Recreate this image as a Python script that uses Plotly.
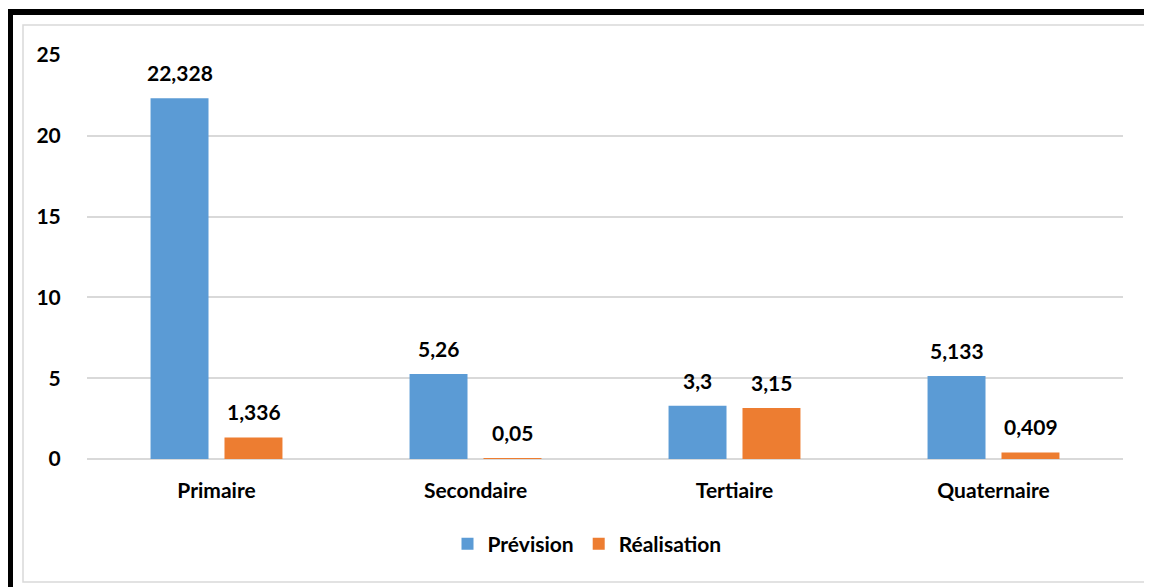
import plotly.graph_objects as go

categories = ["Primaire", "Secondaire", "Tertiaire", "Quaternaire"]
prevision = [22.328, 5.26, 3.3, 5.133]
realisation = [1.336, 0.05, 3.15, 0.409]
series_names = ["Prévision", "Réalisation"]
y_ticks = [0, 5, 10, 15, 20, 25]

BLUE = "#5B9BD5"
ORANGE = "#ED7D31"
GRID = "#D9D9D9"
FONT = "Lato"
FS = 21

OFF = 8  # default page body margin
W, H = 1152 - OFF, 587 - OFF
L, R, T, B = 87 - OFF, 1123 - OFF, 55 - OFF, 459 - OFF

fig = go.Figure()
for name, vals, col in [(series_names[0], prevision, BLUE), (series_names[1], realisation, ORANGE)]:
    fig.add_trace(go.Bar(x=categories, y=vals, name=name, marker=dict(color=col, line=dict(width=0))))

def fmt(v):
    return str(v).replace(".", ",")

annotations = []
for vals, shift in [(prevision, -37), (realisation, 37)]:
    for c, v in zip(categories, vals):
        annotations.append(dict(x=c, y=v, text=fmt(v), showarrow=False, xshift=shift,
                                yanchor="bottom", yshift=11,
                                font=dict(family=FONT, size=FS, color="#000000", weight="bold")))

def px(xs):
    return (xs - OFF - L) / (R - L)

def py(ys):
    return (B - (ys - OFF)) / (B - T)

shapes = [
    dict(type="rect", xref="paper", yref="paper", x0=px(23), x1=px(1150.5), y0=py(582), y1=py(25),
         line=dict(color=GRID, width=1.5), fillcolor="rgba(0,0,0,0)", layer="below"),
    dict(type="rect", xref="paper", yref="paper", x0=px(7), x1=px(1152), y0=py(15), y1=py(9),
         line=dict(width=0), fillcolor="#000000"),
    dict(type="rect", xref="paper", yref="paper", x0=px(7), x1=px(13), y0=py(587), y1=py(9),
         line=dict(width=0), fillcolor="#000000"),
]

fig.update_layout(
    width=W, height=H,
    margin=dict(l=L, r=W - R, t=T, b=H - B, pad=0),
    paper_bgcolor="white", plot_bgcolor="white",
    barmode="group", bargap=0.429, bargroupgap=0.216,
    font=dict(family=FONT, size=FS, color="#000000", weight="bold"),
    xaxis=dict(type="category", showgrid=False, showline=False, zeroline=False,
               ticks="outside", ticklen=13, tickcolor="rgba(0,0,0,0)",
               tickfont=dict(family=FONT, size=FS, weight="bold")),
    yaxis=dict(range=[0, 25], tickvals=y_ticks, showgrid=True, gridcolor=GRID, gridwidth=1.5,
               zeroline=True, zerolinecolor=GRID, zerolinewidth=1.5, showline=False,
               ticks="outside", ticklen=21, tickcolor="rgba(0,0,0,0)",
               tickfont=dict(family=FONT, size=FS, weight="bold")),
    legend=dict(orientation="h", x=px(587), xanchor="center", y=py(544), yanchor="middle",
                font=dict(family=FONT, size=FS, weight="bold"), itemwidth=30, traceorder="normal"),
    annotations=annotations,
    shapes=shapes,
    showlegend=True,
)

fig.write_html("out.html")
